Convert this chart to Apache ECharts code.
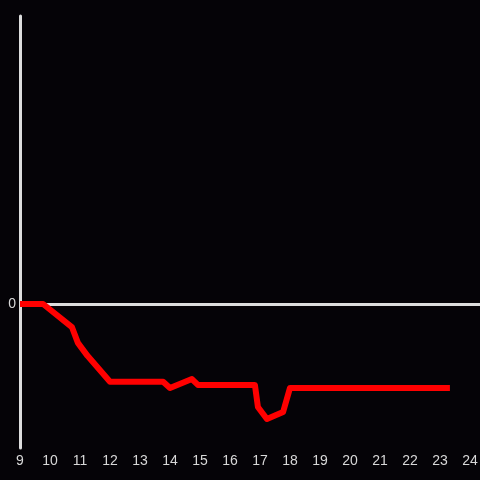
<!DOCTYPE html>
<html><head><meta charset="utf-8">
<script src="https://cdn.jsdelivr.net/npm/echarts@6/dist/echarts.min.js"></script>
<style>html,body{margin:0;padding:0;background:#050307}#c{width:480px;height:480px}</style>
</head><body><div id="c"></div>
<script>
const xValues = [9, 9.77, 10.73, 10.93, 11.25, 12, 13.77, 14, 14.73, 14.93, 16.83, 16.93, 17.23, 17.77, 18, 23.33];
const yValues = [0, 0, -16, -27, -36, -54, -54, -58.3, -52.1, -56.2, -56.2, -71.5, -79.9, -75, -58.3, -58.3];
const xTicks = [9,10,11,12,13,14,15,16,17,18,19,20,21,22,23,24];

const chart = echarts.init(document.getElementById('c'));
chart.setOption({
  backgroundColor: '#050307',
  animation: false,
  grid: {left: 20, right: 0, top: 16, bottom: 32, containLabel: false, outerBoundsMode: 'none'},
  xAxis: {
    type: 'value', min: 9, max: 24.333, interval: 1,
    axisLine: {show: false}, axisTick: {show: false}, splitLine: {show: false},
    axisLabel: {color: '#d8d8d8', fontSize: 14, margin: 6, fontFamily: 'Liberation Sans', hideOverlap: false,
      formatter: v => xTicks.includes(Math.round(v*1000)/1000) ? String(v) : ''}
  },
  yAxis: {
    type: 'value', min: -100, max: 200, interval: 100,
    axisLine: {show: true, lineStyle: {color: '#dddddd', width: 3}},
    axisTick: {show: false}, splitLine: {show: false},
    axisLabel: {color: '#d8d8d8', fontSize: 14, margin: 4, fontFamily: 'Liberation Sans',
      formatter: v => v === 0 ? '0' : ''}
  },
  series: [{
    type: 'line',
    data: xValues.map((x, i) => [x, yValues[i]]),
    showSymbol: false,
    lineStyle: {color: '#ff0000', width: 6, cap: 'butt', join: 'round'},
    z: 3,
    markLine: {
      silent: true, symbol: 'none', label: {show: false},
      lineStyle: {color: '#dddddd', width: 3, type: 'solid'},
      data: [{yAxis: 0}],
      z: 2
    }
  }]
});
</script>
</body></html>
